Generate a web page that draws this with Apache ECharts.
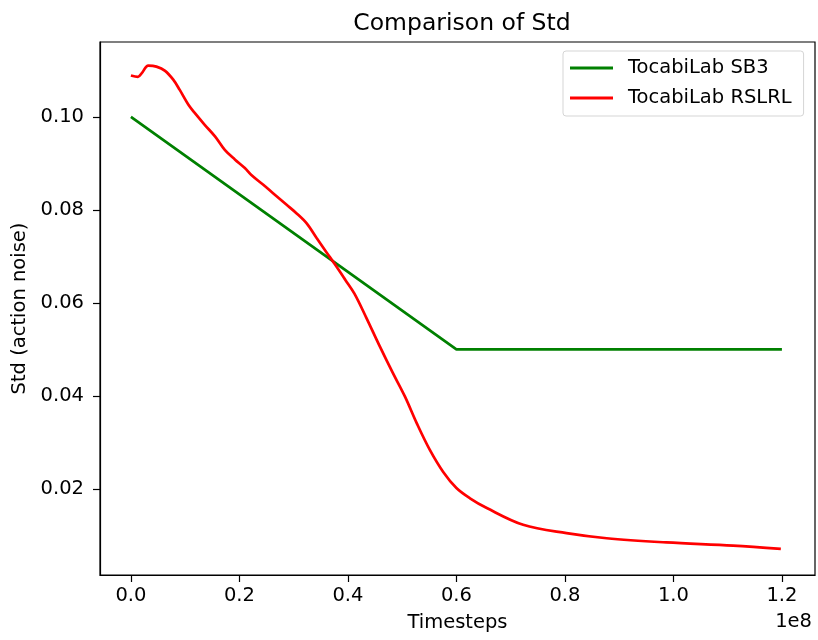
<!DOCTYPE html>
<html>
<head>
<meta charset="utf-8">
<script src="https://cdn.jsdelivr.net/npm/echarts@6/dist/echarts.min.js"></script>
<style>
  body { margin: 0; background: #fff; }
  #chart { width: 818px; height: 640px; }
</style>
</head>
<body>
<div id="chart"></div>
<script>
// timesteps in units of 1e8
var sb3Steps = [0, 0.6, 1.2];
var sb3Std = [0.10, 0.05, 0.05];

var rslrlSteps = [0, 0.013, 0.020, 0.032, 0.047, 0.063, 0.078, 0.090, 0.106, 0.118, 0.136, 0.155, 0.173, 0.192, 0.210, 0.222, 0.244, 0.262, 0.287, 0.305, 0.324, 0.342, 0.361, 0.376, 0.395, 0.412, 0.434, 0.459, 0.483, 0.505, 0.527, 0.551, 0.576, 0.600, 0.625, 0.656, 0.723, 0.803, 0.877, 0.987, 1.110, 1.198];
var rslrlStd = [0.1089, 0.1086, 0.1094, 0.1110, 0.1108, 0.1099, 0.1080, 0.1058, 0.1026, 0.1008, 0.0983, 0.0958, 0.0929, 0.0908, 0.0890, 0.0875, 0.0854, 0.0836, 0.0811, 0.0793, 0.0771, 0.0740, 0.0708, 0.0683, 0.0650, 0.0620, 0.0568, 0.0506, 0.0449, 0.0399, 0.0341, 0.0284, 0.0236, 0.0202, 0.0180, 0.0159, 0.0123, 0.0105, 0.0094, 0.0085, 0.0078, 0.0071];

var xTicks = [0, 0.2, 0.4, 0.6, 0.8, 1.0, 1.2];
var yTicks = [0.02, 0.04, 0.06, 0.08, 0.10];

function pairs(xs, ys) {
  var out = [];
  for (var i = 0; i < xs.length; i++) out.push([xs[i], ys[i]]);
  return out;
}

var font = 'DejaVu Sans';
var fs = 19.5;
var myChart = echarts.init(document.getElementById('chart'));

var option = {
  backgroundColor: '#fff',
  animation: false,
  textStyle: { fontFamily: font },
  title: {
    text: 'Comparison of Std',
    left: 457, top: 7,
    textAlign: 'center',
    textStyle: { fontFamily: font, fontSize: 23.5, fontWeight: 'normal', color: '#000' }
  },
  grid: {
    left: 100, right: 3, top: 42, bottom: 65,
    show: true, borderColor: '#000', borderWidth: 1.2
  },
  legend: {
    orient: 'vertical',
    left: 563, top: 51,
    padding: [6, 12, 7, 7],
    borderColor: '#d5d5d5', borderWidth: 1, borderRadius: 3,
    itemWidth: 43, itemHeight: 3, itemGap: 8,
    icon: 'rect',
    textStyle: { fontFamily: font, fontSize: fs, color: '#000', lineHeight: 22, padding: [0, 0, 0, 10] },
    data: ['TocabiLab SB3', 'TocabiLab RSLRL']
  },
  xAxis: {
    type: 'value',
    min: -0.057, max: 1.261,
    name: 'Timesteps',
    nameLocation: 'middle', nameGap: 38,
    nameTextStyle: { fontFamily: font, fontSize: fs, color: '#000' },
    axisLine: { show: true, onZero: false, lineStyle: { color: '#000', width: 1.2 } },
    axisTick: { show: true, length: 7, customValues: xTicks, lineStyle: { color: '#000', width: 1.2 } },
    axisLabel: {
      customValues: xTicks, margin: 11,
      fontFamily: font, fontSize: fs, color: '#000',
      formatter: function (v) { return v.toFixed(1); }
    },
    splitLine: { show: false }
  },
  yAxis: {
    type: 'value',
    min: 0.0015, max: 0.1161,
    name: 'Std (action noise)',
    nameLocation: 'middle', nameGap: 70,
    nameTextStyle: { fontFamily: font, fontSize: fs, color: '#000' },
    axisLine: { show: true, onZero: false, lineStyle: { color: '#000', width: 1.2 } },
    axisTick: { show: true, length: 7, customValues: yTicks, lineStyle: { color: '#000', width: 1.2 } },
    axisLabel: {
      customValues: yTicks, margin: 16,
      fontFamily: font, fontSize: fs, color: '#000',
      formatter: function (v) { return v.toFixed(2); }
    },
    splitLine: { show: false }
  },
  graphic: [{
    type: 'text',
    right: 6, top: 612,
    style: { text: '1e8', fontFamily: font, fontSize: fs, fill: '#000' }
  }],
  series: [
    {
      name: 'TocabiLab SB3',
      type: 'line',
      symbol: 'none',
      color: '#008000',
      lineStyle: { width: 2.7, color: '#008000' },
      data: pairs(sb3Steps, sb3Std)
    },
    {
      name: 'TocabiLab RSLRL',
      type: 'line',
      symbol: 'none',
      smooth: 0.35,
      color: '#ff0000',
      lineStyle: { width: 2.7, color: '#ff0000' },
      data: pairs(rslrlSteps, rslrlStd)
    }
  ]
};

option && myChart.setOption(option);
</script>
</body>
</html>
